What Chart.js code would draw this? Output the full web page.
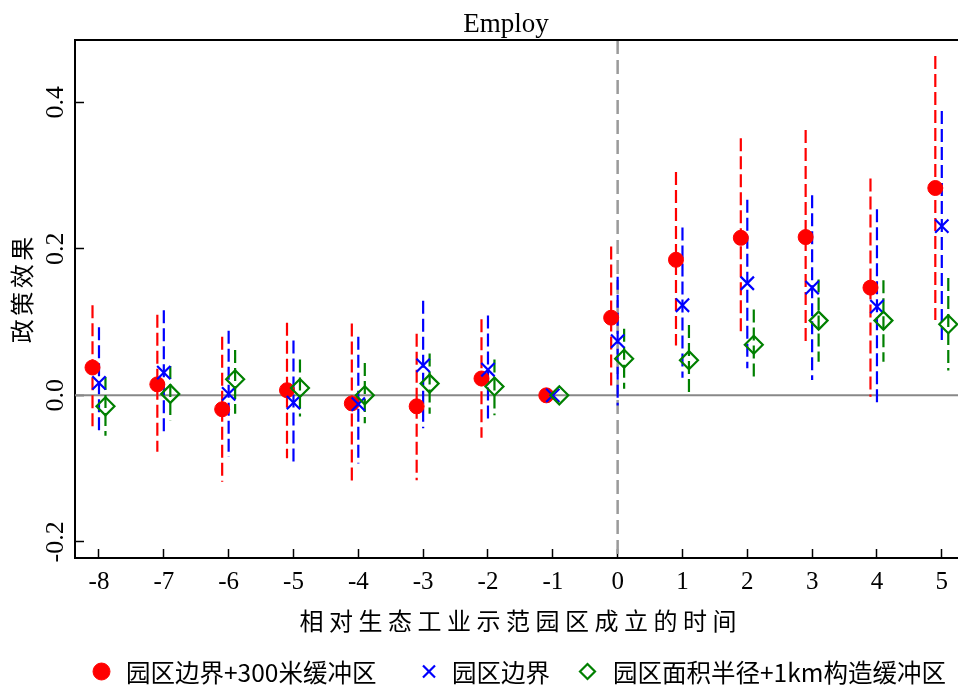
<!DOCTYPE html>
<html>
<head>
<meta charset="utf-8">
<script src="https://cdn.jsdelivr.net/npm/chart.js@4.4.1/dist/chart.umd.min.js"></script>
<style>
  html, body { margin: 0; padding: 0; background: #fff; }
  #wrap { width: 958px; height: 687px; }
</style>
</head>
<body>
<div id="wrap"><canvas id="chart" width="958" height="687"></canvas></div>
<script>
// --- DATA ---
const periods = [-8, -7, -6, -5, -4, -3, -2, -1, 0, 1, 2, 3, 4, 5];
const xTickLabels = ['-8', '-7', '-6', '-5', '-4', '-3', '-2', '-1', '0', '1', '2', '3', '4', '5'];
const yTicks = [-0.2, 0, 0.2, 0.4];
const yTickLabels = ['-0.2', '0.0', '0.2', '0.4'];

const chartTitle = 'Employ';
const xTitle = '相对生态工业示范园区成立的时间';
const yTitle = '政策效果';
const seriesNames = ['园区边界+300米缓冲区', '园区边界', '园区面积半径+1km构造缓冲区'];

// 园区边界+300米缓冲区 (red)
const redEst = [0.038, 0.015, -0.019, 0.007, -0.011, -0.015, 0.023, 0, 0.106, 0.185, 0.215, 0.216, 0.147, 0.283];
const redHi  = [0.123, 0.110, 0.080, 0.099, 0.098, 0.084, 0.104, null, 0.203, 0.305, 0.351, 0.362, 0.296, 0.463];
const redLo  = [-0.046, -0.077, -0.118, -0.086, -0.119, -0.116, -0.058, null, 0.007, 0.068, 0.082, 0.071, -0.002, 0.103];

// 园区边界 (blue)
const blueEst = [0.017, 0.031, 0.002, -0.010, -0.012, 0.041, 0.035, 0, 0.074, 0.123, 0.153, 0.147, 0.121, 0.231];
const blueHi  = [0.093, 0.116, 0.088, 0.075, 0.080, 0.129, 0.109, null, 0.162, 0.229, 0.267, 0.273, 0.254, 0.388];
const blueLo  = [-0.050, -0.055, -0.084, -0.095, -0.093, -0.045, -0.035, null, -0.014, 0.024, 0.037, 0.021, -0.012, 0.075];

// 园区面积半径+1km构造缓冲区 (green)
const greenEst = [-0.015, 0.002, 0.022, 0.010, 0.000, 0.016, 0.012, 0, 0.050, 0.048, 0.069, 0.102, 0.102, 0.097];
const greenHi  = [0.025, 0.040, 0.062, 0.049, 0.044, 0.057, 0.049, null, 0.091, 0.096, 0.117, 0.158, 0.157, 0.160];
const greenLo  = [-0.055, -0.034, -0.025, -0.029, -0.038, -0.025, -0.027, null, 0.009, -0.001, 0.021, 0.046, 0.046, 0.034];

// axis ranges
const X_MIN = -8.37, X_MAX = 5.25;
const Y_MIN = -0.222, Y_MAX = 0.485;

// --- HELPERS ---
function pointData(est, off) {
    return periods.map((p, i) => ({ x: p + off, y: est[i] }));
}

function ciData(hi, lo, off) {
    const out = [];
    periods.forEach((p, i) => {
        if (hi[i] === null) return;
        out.push({ x: p + off, y: hi[i] }, { x: p + off, y: lo[i] }, { x: p + off, y: null });
    });
    return out;
}

const RED = '#ff0000', BLUE = '#0000ff', GREEN = '#008000';
const CI_DASH = [13, 5];

// legend entries: marker style + where they sit in the bottom row
const legendItems = [
    { style: 'circle',   radius: 8.5, fill: RED,  stroke: RED,   width: 1,   mx: 101.5, tx: 126 },
    { style: 'crossRot', radius: 8.5, fill: BLUE, stroke: BLUE,  width: 2.2, mx: 429,   tx: 452 },
    { style: 'rectRot',  radius: 7.5, fill: 'rgba(0,0,0,0)', stroke: GREEN, width: 2.2, mx: 587.5, tx: 613 }
];

// titles, top frame line, legend
const textPlugin = {
    id: 'texts',
    afterDraw(chart) {
        const ctx = chart.ctx;
        const area = chart.chartArea;
        ctx.save();
        ctx.strokeStyle = '#000';
        ctx.lineWidth = 2;
        ctx.beginPath();
        ctx.moveTo(area.left - 1, area.top);
        ctx.lineTo(area.right, area.top);
        ctx.stroke();

        ctx.fillStyle = '#000';
        ctx.textAlign = 'center';
        ctx.textBaseline = 'alphabetic';
        ctx.font = '27px "Liberation Serif"';
        ctx.fillText(chartTitle, 506, 32);

        ctx.font = '24px "Noto Sans CJK SC"';
        ctx.textBaseline = 'middle';
        ctx.letterSpacing = '5.5px';
        ctx.fillText(xTitle, 518 + 2.75, 621);

        // legend row
        ctx.font = '24.5px "Noto Sans CJK SC"';
        ctx.letterSpacing = '0px';
        ctx.textAlign = 'left';
        legendItems.forEach((it, i) => {
            ctx.fillStyle = it.fill;
            ctx.strokeStyle = it.stroke;
            ctx.lineWidth = it.width;
            Chart.helpers.drawPoint(ctx, { pointStyle: it.style, radius: it.radius, rotation: 0, borderWidth: it.width }, it.mx, 671.5);
            ctx.fillStyle = '#000';
            ctx.fillText(seriesNames[i], it.tx, 673);
        });

        ctx.textAlign = 'center';
        ctx.font = '24px "Noto Sans CJK SC"';
        ctx.translate(22, 290);
        ctx.rotate(-Math.PI / 2);
        ctx.letterSpacing = '3.5px';
        ctx.fillText(yTitle, 1.75, 0);
        ctx.restore();
    }
};

const tickFont = { family: '"Liberation Serif", serif' };

new Chart(document.getElementById('chart'), {
    type: 'scatter',
    data: {
        datasets: [
            { label: seriesNames[0], data: pointData(redEst, -0.1), order: 2,
              pointStyle: 'circle', pointRadius: 7.5, backgroundColor: RED, borderColor: RED, borderWidth: 1 },
            { label: seriesNames[1], data: pointData(blueEst, 0), order: 1,
              pointStyle: 'crossRot', pointRadius: 9.4, backgroundColor: BLUE, borderColor: BLUE, borderWidth: 2.2 },
            { label: seriesNames[2], data: pointData(greenEst, 0.1), order: 0,
              pointStyle: 'rectRot', pointRadius: 9, backgroundColor: 'rgba(0,0,0,0)', borderColor: GREEN, borderWidth: 2.2 },
            { label: 'ci-red', data: ciData(redHi, redLo, -0.1), order: 5, showLine: true, spanGaps: false,
              pointRadius: 0, borderColor: RED, borderWidth: 2.2, borderDash: CI_DASH },
            { label: 'ci-blue', data: ciData(blueHi, blueLo, 0), order: 4, showLine: true, spanGaps: false,
              pointRadius: 0, borderColor: BLUE, borderWidth: 2.2, borderDash: CI_DASH },
            { label: 'ci-green', data: ciData(greenHi, greenLo, 0.1), order: 3, showLine: true, spanGaps: false,
              pointRadius: 0, borderColor: GREEN, borderWidth: 2.2, borderDash: CI_DASH },
            { label: 'zero', data: [{ x: X_MIN, y: 0 }, { x: X_MAX, y: 0 }], order: 7, showLine: true,
              pointRadius: 0, borderColor: '#888888', borderWidth: 2 },
            { label: 'event', data: [{ x: 0, y: Y_MAX }, { x: 0, y: Y_MIN }], order: 6, showLine: true,
              pointRadius: 0, borderColor: '#9a9a9a', borderWidth: 2.5, borderDash: [14, 6] }
        ]
    },
    options: {
        responsive: false,
        animation: false,
        events: [],
        layout: { autoPadding: false, padding: { top: 40, left: 0, right: 0, bottom: 74 } },
        scales: {
            x: {
                type: 'linear', min: X_MIN, max: X_MAX,
                afterBuildTicks: s => { s.ticks = periods.map(v => ({ value: v })); },
                afterFit: s => { s.height = 55; s.paddingLeft = 0; s.paddingRight = 0; },
                grid: { display: true, drawOnChartArea: false, drawTicks: true, tickLength: -9, tickColor: '#000', tickWidth: 1.5 },
                border: { display: true, color: '#000', width: 2 },
                ticks: { autoSkip: false, minRotation: 0, maxRotation: 0, padding: 18, color: '#000',
                         font: { ...tickFont, size: 25 }, callback: (v, i) => xTickLabels[i] }
            },
            y: {
                type: 'linear', min: Y_MIN, max: Y_MAX,
                afterBuildTicks: s => { s.ticks = yTicks.map(v => ({ value: v })); },
                afterFit: s => { s.width = 75; s.paddingTop = 0; s.paddingBottom = 0; },
                grid: { display: true, drawOnChartArea: false, drawTicks: true, tickLength: -9, tickColor: '#000', tickWidth: 1.5 },
                border: { display: true, color: '#000', width: 2 },
                ticks: { autoSkip: false, minRotation: 90, maxRotation: 90, crossAlign: 'center', padding: 7, color: '#000',
                         font: { ...tickFont, size: 26 }, callback: (v, i) => yTickLabels[i] }
            }
        },
        plugins: {
            title: { display: false },
            tooltip: { enabled: false },
            legend: { display: false }
        }
    },
    plugins: [textPlugin]
});
</script>
</body>
</html>
